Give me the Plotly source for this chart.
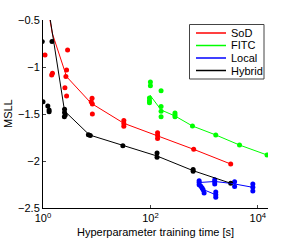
import plotly.graph_objects as go

# Mean curves (time [s], MSLL)
sod_mean_t = [1.0, 1.49, 2.75, 7.9, 32, 136, 640, 3130]
sod_mean_y = [-0.08, -0.642, -1.103, -1.386, -1.599, -1.731, -1.876, -2.032]
fitc_mean_t = [98, 158, 287, 607, 1650, 4570, 14860]
fitc_mean_y = [-1.298, -1.457, -1.521, -1.628, -1.723, -1.83, -1.936]
local_mean_t = [1650, 958, 808, 1578, 3300, 8080]
local_mean_y = [-2.359, -2.303, -2.229, -2.218, -2.239, -2.280]
hybrid_mean_t = [1.0, 2.52, 7.33, 30.7, 133, 625, 3130]
hybrid_mean_y = [0.0, -1.468, -1.723, -1.837, -1.947, -2.103, -2.237]

# Individual runs
sod_run_t = [1.09, 1.45, 1.5, 2.87, 2.75, 2.67, 2.56, 2.75, 8.2, 7.9, 8.3, 8.3,
             32, 32, 32, 136, 136, 136, 640, 3130]
sod_run_y = [-0.872, -1.085, -1.067, -0.819, -1.032, -1.10, -1.22, -1.309, -1.333,
             -1.369, -1.394, -1.50, -1.57, -1.60, -1.63, -1.70, -1.73, -1.76, -1.876, -2.032]
fitc_run_t = [100, 100, 158, 96, 96, 96, 158, 158, 158, 287, 287, 287, 607, 1650, 4570, 14860]
fitc_run_y = [-1.16, -1.20, -1.252, -1.33, -1.36, -1.38, -1.42, -1.47, -1.53,
              -1.49, -1.51, -1.53, -1.628, -1.723, -1.83, -1.936]
local_run_t = [808, 808, 808, 870, 958, 920, 1000, 1578, 1578, 1578, 1650, 1650, 1650,
               3700, 3700, 8080, 8080, 8080]
local_run_y = [-2.21, -2.229, -2.252, -2.269, -2.305, -2.287, -2.34, -2.199, -2.22, -2.245,
               -2.33, -2.36, -2.386, -2.22, -2.27, -2.245, -2.28, -2.32]
hybrid_run_t = [0.97, 1.47, 1.0, 1.23, 1.3, 1.3, 2.52, 2.52, 2.6, 2.5, 7.0, 7.6,
                30.7, 133, 133, 625, 625, 3130]
hybrid_run_y = [-0.73, -0.73, -1.37, -1.415, -1.457, -1.475, -1.45, -1.485, -1.51, -1.53,
                -1.72, -1.73, -1.837, -1.915, -1.96, -2.09, -2.11, -2.237]

series_names = ["SoD", "FITC", "Local", "Hybrid"]
series_colors = ["#ff0000", "#00ff00", "#0000ff", "#000000"]
series_mean = [(sod_mean_t, sod_mean_y), (fitc_mean_t, fitc_mean_y),
               (local_mean_t, local_mean_y), (hybrid_mean_t, hybrid_mean_y)]
series_runs = [(sod_run_t, sod_run_y), (fitc_run_t, fitc_run_y),
               (local_run_t, local_run_y), (hybrid_run_t, hybrid_run_y)]

x_tickvals = [1, 100, 10000]
x_ticktext = ["10<sup>0</sup>", "10<sup>2</sup>", "10<sup>4</sup>"]
y_tickvals = [-2.5, -2, -1.5, -1, -0.5]
x_title = "Hyperparameter training time [s]"
y_title = "MSLL"

fig = go.Figure()
for name, color, (rt, ry) in zip(series_names, series_colors, series_runs):
    fig.add_trace(go.Scatter(x=rt, y=ry, mode="markers", showlegend=False,
                             marker=dict(color=color, size=5, line=dict(width=0))))
for name, color, (mt, my) in zip(series_names, series_colors, series_mean):
    fig.add_trace(go.Scatter(x=mt, y=my, mode="lines", name=name, showlegend=False,
                             line=dict(color=color, width=1)))

# Layout geometry (pixels)
W, H = 300, 241
ML, MR, MT, MB = 43, 32, 20, 33
PW, PH = W - ML - MR, H - MT - MB


def px_x(p):
    return (p - ML) / PW


def px_y(p):
    return 1 - (p - MT) / PH


# Manual legend (MATLAB-style compact box)
shapes = [dict(type="rect", xref="paper", yref="paper",
               x0=px_x(189.5), x1=px_x(264), y0=px_y(79), y1=px_y(24.5),
               line=dict(color="#444444", width=1), fillcolor="white", layer="above")]
annotations = []
for i, (name, color) in enumerate(zip(series_names, series_colors)):
    yy = px_y(33 + 12.5 * i)
    shapes.append(dict(type="line", xref="paper", yref="paper",
                       x0=px_x(196), x1=px_x(226), y0=yy, y1=yy,
                       line=dict(color=color, width=1.5), layer="above"))
    annotations.append(dict(xref="paper", yref="paper", x=px_x(229), y=yy,
                            xanchor="left", yanchor="middle", text=name,
                            showarrow=False, font=dict(size=11)))

# Axis titles
annotations.append(dict(xref="paper", yref="paper", x=0.5, y=px_y(232),
                        xanchor="center", yanchor="middle", text=x_title,
                        showarrow=False, font=dict(size=11)))
annotations.append(dict(xref="paper", yref="paper", x=px_x(8), y=0.5,
                        xanchor="center", yanchor="middle", text=y_title,
                        textangle=-90, showarrow=False, font=dict(size=11)))

font = "Liberation Sans, Arial, sans-serif"
fig.update_layout(
    width=W, height=H,
    margin=dict(l=ML, r=MR, t=MT, b=MB),
    paper_bgcolor="white", plot_bgcolor="white",
    font=dict(family=font, size=11, color="black"),
    showlegend=False,
    shapes=shapes, annotations=annotations,
    xaxis=dict(type="log", range=[0, 4.19], tickvals=x_tickvals, ticktext=x_ticktext,
               ticks="inside", ticklen=3, showgrid=False, zeroline=False,
               showline=True, linecolor="black", linewidth=1, automargin=False),
    yaxis=dict(range=[-2.5, -0.5], tickvals=y_tickvals,
               ticks="inside", ticklen=3, showgrid=False, zeroline=False,
               showline=True, linecolor="black", linewidth=1, automargin=False),
)
fig.write_html("out.html", config={"displayModeBar": False},
               post_script="document.body.style.margin='0';document.body.style.padding='0';")
